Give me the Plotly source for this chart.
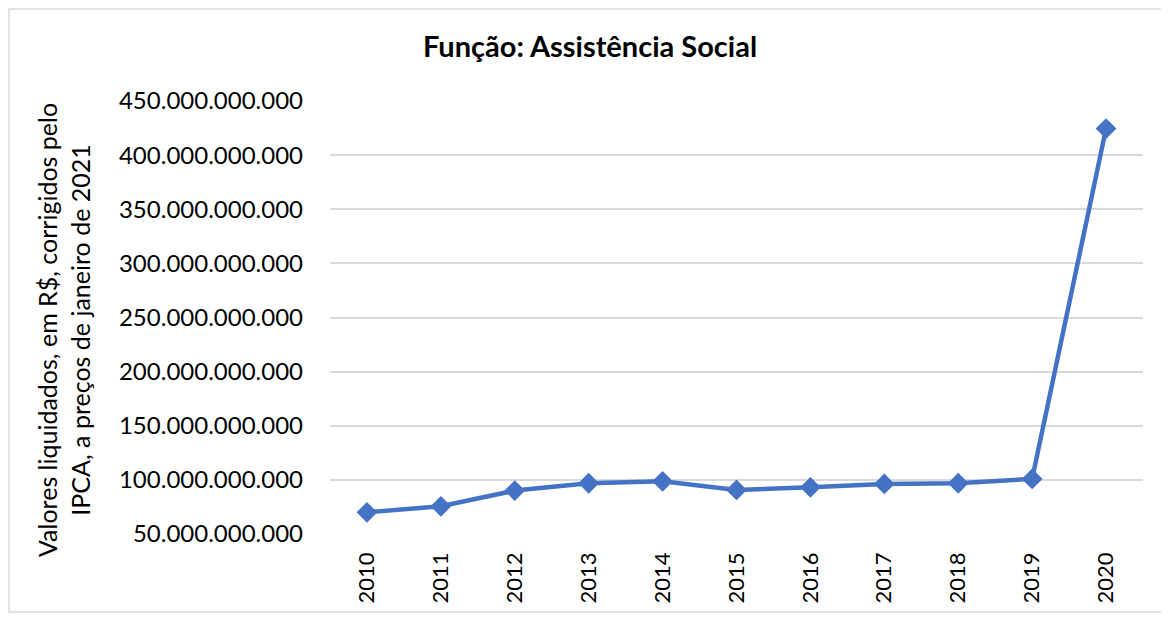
import plotly.graph_objects as go

anos = ["2010", "2011", "2012", "2013", "2014", "2015", "2016", "2017", "2018", "2019", "2020"]
valores = [70.0e9, 75.6e9, 90.1e9, 96.9e9, 98.7e9, 90.7e9, 93.1e9, 96.3e9, 96.9e9, 100.9e9, 424.5e9]
y_ticks = [50e9, 100e9, 150e9, 200e9, 250e9, 300e9, 350e9, 400e9, 450e9]

FONT = "Lato"
OFF = 8  # page body margin offset

fig = go.Figure()
fig.add_trace(go.Scatter(
    x=anos, y=valores, mode="lines+markers",
    line=dict(color="#4472C4", width=4.5),
    marker=dict(symbol="diamond", size=16, color="#4472C4"),
    showlegend=False,
))

fig.update_layout(
    width=1169, height=617,
    margin=dict(l=330 - OFF, r=1169 - 1143 + OFF, t=101 - OFF, b=617 - 534 + OFF),
    paper_bgcolor="white", plot_bgcolor="white",
    separators=",.",
    font=dict(family=FONT, color="black"),
    title=dict(text="<b>Função: Assistência Social</b>", x=(590 - OFF) / 1169, xanchor="center",
               y=1 - (47 - OFF) / 617, yanchor="middle", font=dict(size=29, family=FONT, color="black")),
    xaxis=dict(type="category", range=[-0.5, 10.5], tickangle=-90, showgrid=False,
               showline=False, ticks="", tickfont=dict(size=22, family=FONT), ticklabelstandoff=13),
    yaxis=dict(range=[50e9, 450e9], tickvals=y_ticks, tickformat=",.0f",
               showgrid=True, gridcolor="#D9D9D9", gridwidth=1.5, zeroline=False, showline=False,
               ticks="", tickfont=dict(size=24, family=FONT), ticklabelstandoff=26),
    annotations=[dict(
        text="Valores liquidados, em R$, corrigidos pelo<br>IPCA, a preços de janeiro de 2021",
        x=(63 - 330) / 813, y=(534 - 330) / 433, xref="paper", yref="paper",
        textangle=-90, showarrow=False, xanchor="center", yanchor="middle",
        font=dict(size=25, family=FONT, color="black"),
    )],
    shapes=[dict(type="rect", xref="paper", yref="paper",
                 x0=(9 - 330) / 813, x1=(1166 - 330) / 813,
                 y0=(534 - 612) / 433, y1=(534 - 9) / 433,
                 line=dict(color="#D9D9D9", width=1.5), fillcolor="rgba(0,0,0,0)", layer="below")],
)

fig.write_html("out.html")
